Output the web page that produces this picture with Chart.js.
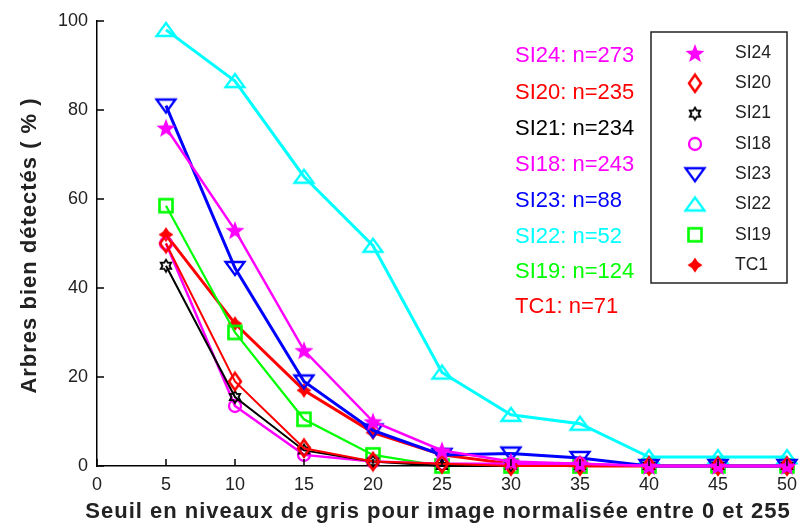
<!DOCTYPE html>
<html>
<head>
<meta charset="utf-8">
<script src="https://cdn.jsdelivr.net/npm/chart.js@4.4.0/dist/chart.umd.min.js"></script>
<style>
  html, body { margin: 0; padding: 0; background: #fff; }
  #wrap { width: 805px; height: 530px; }
</style>
</head>
<body>
<div id="wrap"><canvas id="chart" width="805" height="530"></canvas></div>
<script>
// x values (threshold) and detection rates per series
const thresholds = [5, 10, 15, 20, 25, 30, 35, 40, 45, 50];
const si24 = [76, 53, 26, 10, 3.5, 1, 0.5, 0, 0, 0];
const si20 = [50, 19, 4, 1, 0.5, 0, 0, 0, 0, 0];
const si21 = [45, 15.5, 3.5, 1, 0, 0, 0, 0, 0, 0];
const si18 = [50, 13.5, 2.5, 1, 0.5, 0.5, 0.5, 0, 0, 0];
const si23 = [81, 44.5, 19, 8, 2.5, 2.8, 1.8, 0, 0, 0];
const si22 = [98, 86.5, 65, 49.5, 21, 11.5, 9.5, 2, 2, 2];
const si19 = [58.5, 30, 10.5, 2.5, 0, 0, 0, 0, 0, 0];
const tc1 = [52, 32, 17, 7.5, 2.5, 0.5, 0, 0, 0, 0];

const seriesNames = ['SI24', 'SI20', 'SI21', 'SI18', 'SI23', 'SI22', 'SI19', 'TC1'];
const sampleSizes = ['n=273', 'n=235', 'n=234', 'n=243', 'n=88', 'n=52', 'n=124', 'n=71'];
const noteColors = ['#ff00ff', '#ff0000', '#000000', '#ff00ff', '#0000ff', '#00ffff', '#00ff00', '#ff0000'];
const yTicks = [0, 20, 40, 60, 80, 100];
const xTitle = 'Seuil en niveaux de gris pour image normalisée entre 0 et 255';
const yTitle = 'Arbres bien détectés ( % )';

const FONT = '"Liberation Sans", Arial, sans-serif';

// small canvases used as point markers (and again in the legend box)
function marker(w, h, draw) {
  const c = document.createElement('canvas');
  c.width = w; c.height = h;
  const g = c.getContext('2d');
  draw(g, w / 2, h / 2);
  return c;
}
function starPath(g, cx, cy, n, ro, ri) {
  g.beginPath();
  for (let i = 0; i < n * 2; i++) {
    const r = i % 2 ? ri : ro;
    const a = i * Math.PI / n;
    g.lineTo(cx + r * Math.sin(a), cy - r * Math.cos(a));
  }
  g.closePath();
}
const markers = [
  marker(22, 22, (g, cx, cy) => { starPath(g, cx, cy + 1, 5, 10, 4.2); g.fillStyle = '#ff00ff'; g.fill(); }),
  marker(18, 22, (g, cx, cy) => {
    g.beginPath(); g.moveTo(cx, cy - 8.5); g.lineTo(cx + 6, cy); g.lineTo(cx, cy + 8.5); g.lineTo(cx - 6, cy); g.closePath();
    g.strokeStyle = '#ff0000'; g.lineWidth = 2.5; g.stroke();
  }),
  marker(16, 16, (g, cx, cy) => {
    g.strokeStyle = '#000'; g.lineWidth = 1.8;
    starPath(g, cx, cy, 6, 6, 3.5); g.stroke();
  }),
  marker(18, 18, (g, cx, cy) => { g.beginPath(); g.arc(cx, cy, 6, 0, Math.PI * 2); g.strokeStyle = '#ff00ff'; g.lineWidth = 2.3; g.stroke(); }),
  marker(24, 20, (g, cx, cy) => {
    g.beginPath(); g.moveTo(cx - 9.5, cy - 6); g.lineTo(cx + 9.5, cy - 6); g.lineTo(cx, cy + 7); g.closePath();
    g.strokeStyle = '#0000ff'; g.lineWidth = 2.3; g.stroke();
  }),
  marker(24, 20, (g, cx, cy) => {
    g.beginPath(); g.moveTo(cx - 9.5, cy + 6); g.lineTo(cx + 9.5, cy + 6); g.lineTo(cx, cy - 7); g.closePath();
    g.strokeStyle = '#00ffff'; g.lineWidth = 2.3; g.stroke();
  }),
  marker(18, 18, (g, cx, cy) => { g.strokeStyle = '#00ff00'; g.lineWidth = 2.6; g.strokeRect(cx - 6.5, cy - 6.5, 13, 13); }),
  marker(18, 18, (g, cx, cy) => { starPath(g, cx, cy, 4, 7.5, 4.3); g.fillStyle = '#ff0000'; g.fill(); })
];

const seriesValues = [si24, si20, si21, si18, si23, si22, si19, tc1];
const lineColors = ['#ff00ff', '#ff0000', '#000000', '#ff00ff', '#0000ff', '#00ffff', '#00ff00', '#ff0000'];
const lineWidths = [2.5, 2, 2, 2.5, 3, 3, 2.2, 3];

const datasets = seriesNames.map((name, i) => ({
  label: name,
  data: thresholds.map((x, j) => ({ x: x, y: seriesValues[i][j] })),
  borderColor: lineColors[i],
  backgroundColor: lineColors[i],
  borderWidth: lineWidths[i],
  pointStyle: markers[i],
  pointRadius: 7,
  tension: 0,
  clip: false
}));

// inward tick marks, axis titles, the annotation column and the legend box
const decorations = {
  id: 'decorations',
  afterDatasetsDraw(chart) {
    const ctx = chart.ctx;
    const xs = chart.scales.x, ys = chart.scales.y;
    const area = chart.chartArea;
    ctx.save();
    ctx.strokeStyle = '#000';
    ctx.lineWidth = 1.5;
    ctx.beginPath();
    for (let v = 0; v <= 50; v += 5) {
      const px = xs.getPixelForValue(v);
      ctx.moveTo(px, area.bottom); ctx.lineTo(px, area.bottom - 7);
    }
    yTicks.forEach(v => {
      const py = ys.getPixelForValue(v);
      ctx.moveTo(area.left, py); ctx.lineTo(area.left + 7, py);
    });
    ctx.stroke();

    // axis titles
    ctx.fillStyle = '#222';
    ctx.font = 'bold 22px ' + FONT;
    ctx.letterSpacing = '1px';
    ctx.textAlign = 'center';
    ctx.textBaseline = 'middle';
    ctx.fillText(xTitle, (area.left + area.right) / 2 - 4, 512);
    ctx.save();
    ctx.translate(30, (area.top + area.bottom) / 2 + 2);
    ctx.rotate(-Math.PI / 2);
    ctx.fillText(yTitle, 0, 0);
    ctx.restore();
    ctx.letterSpacing = '0px';

    // sample size notes
    ctx.font = '22px ' + FONT;
    ctx.textAlign = 'left';
    const noteY = [56, 93, 129, 165, 201, 237, 272, 307];
    seriesNames.forEach((name, i) => {
      ctx.fillStyle = noteColors[i];
      ctx.fillText(name + ': ' + sampleSizes[i], 515, noteY[i]);
    });

    // legend box
    ctx.fillStyle = '#fff';
    ctx.fillRect(651, 32, 136, 251);
    ctx.strokeStyle = '#222';
    ctx.lineWidth = 1.5;
    ctx.strokeRect(651, 32, 136, 251);
    ctx.font = '17.5px ' + FONT;
    ctx.fillStyle = '#222';
    seriesNames.forEach((name, i) => {
      const y = 53 + i * 30.3;
      const m = markers[i];
      ctx.drawImage(m, 695 - m.width / 2, y - m.height / 2);
      ctx.fillText(name, 735, y);
    });
    ctx.restore();
  }
};

new Chart(document.getElementById('chart'), {
  type: 'line',
  data: { datasets: datasets },
  options: {
    responsive: false,
    animation: false,
    layout: { padding: { top: 21, right: 12, left: 0, bottom: 0 } },
    plugins: { legend: { display: false }, tooltip: { enabled: false } },
    scales: {
      x: {
        type: 'linear',
        min: 0, max: 50,
        afterFit: s => { s.height = 64; },
        border: { color: '#000', width: 1.5 },
        grid: { display: false, drawTicks: false },
        ticks: { stepSize: 5, color: '#222', padding: 8, font: { family: FONT, size: 18 } }
      },
      y: {
        min: 0, max: 100,
        afterFit: s => { s.width = 97; },
        border: { color: '#000', width: 1.5 },
        grid: { display: false, drawTicks: false },
        ticks: { stepSize: 20, color: '#222', padding: 9, font: { family: FONT, size: 18 } }
      }
    }
  },
  plugins: [decorations]
});
</script>
</body>
</html>
